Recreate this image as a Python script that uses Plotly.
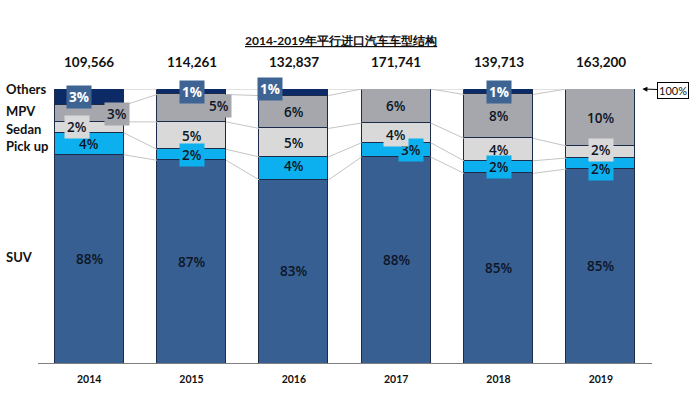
import plotly.graph_objects as go

# ---------------- data ----------------
years = ["2014", "2015", "2016", "2017", "2018", "2019"]
totals = ["109,566", "114,261", "132,837", "171,741", "139,713", "163,200"]
segment_names = ["SUV", "Pick up", "Sedan", "MPV", "Others"]
suv = [88.0, 87.0, 83.4, 87.6, 84.6, 85.4]
pickup = [4.0, 2.0, 4.2, 2.6, 2.3, 2.0]
sedan = [2.0, 5.0, 5.2, 3.6, 4.1, 2.2]
mpv = [3.0, 5.0, 6.0, 6.2, 8.0, 10.4]
others = [3.0, 1.0, 1.2, 0.0, 1.0, 0.0]
title_text = "2014-2019年平行进口汽车车型结构"

series = [suv, pickup, sedan, mpv, others]
colors = ["#375f91", "#0db0ee", "#d9d9d9", "#a5a7ac", "#0c2a66"]

FONT = "Lato"
LABEL_FONT = "Open Sans"
BAR_W = 0.675
x = list(range(len(years)))

fig = go.Figure()

# connector lines between bars at each cumulative boundary
cum = []
for i in range(len(years)):
    c, run = [], 0.0
    for s in series:
        run += s[i]
        c.append(run)
    cum.append(c)
lx, ly = [], []
for i in range(len(years) - 1):
    for k in range(len(series)):
        lx += [i + BAR_W / 2, i + 1 - BAR_W / 2, None]
        ly += [cum[i][k], cum[i + 1][k], None]
fig.add_trace(go.Scatter(x=lx, y=ly, mode="lines",
                         line=dict(color="#c4c4c4", width=1),
                         hoverinfo="skip", showlegend=False))

for name, vals, col in zip(segment_names, series, colors):
    fig.add_trace(go.Bar(x=x, y=vals, name=name, width=BAR_W,
                         marker=dict(color=col, line=dict(color="#1c2b4a", width=1)),
                         showlegend=False, hoverinfo="skip"))

# ---------------- label styles ----------------
styles = {
    "plain": dict(bg=None, fc="#0d1526", bold=False),
    "dark": dict(bg="#3e6494", fc="#ffffff", bold=True),
    "grey": dict(bg="#a5a7ac", fc="#0d1526", bold=False),
    "light": dict(bg="#d9d9d9", fc="#0d1526", bold=False),
    "cyan": dict(bg="#0db0ee", fc="#0d1526", bold=False),
}
# (segment index, year index) -> (style, xshift, yshift)
placement = {
    (4, 0): ("dark", -10, 0), (4, 1): ("dark", 0, 0), (4, 2): ("dark", -24, 3),
    (4, 4): ("dark", 0, 0), (4, 5): ("dark", 1, -1),
    (3, 0): ("grey", 28, 0), (3, 1): ("grey", 27, 2),
    (2, 0): ("light", -12, 0), (2, 3): ("light", 0, -2), (2, 5): ("light", 0, 2),
    (1, 1): ("cyan", 0, 0), (1, 2): ("plain", 0, 2), (1, 3): ("cyan", 15, 0),
    (1, 4): ("cyan", 0, 0), (1, 5): ("cyan", 0, -5),
}
Y0 = 50
annotations = []
for k, vals in enumerate(series):
    for i, v in enumerate(vals):
        if k == 4 and v == 0 and i == 3:
            continue
        lo = cum[i][k] - v
        hi = cum[i][k]
        if k == 0:
            yc = (max(lo, Y0) + hi) / 2
        else:
            yc = (lo + hi) / 2
        st, xs, ys = placement.get((k, i), ("plain", 0, 0))
        sd = styles[st]
        txt = f"{round(v)}%"
        a = dict(x=i, y=yc, xref="x", yref="y", text=txt, showarrow=False,
                 xshift=xs, yshift=ys,
                 font=dict(family=LABEL_FONT, size=13.5, color=sd["fc"],
                           weight=700 if sd["bold"] else 600))
        if sd["bg"]:
            a.update(bgcolor=sd["bg"], borderpad=2)
        annotations.append(a)

# totals above bars
for i, t in enumerate(totals):
    annotations.append(dict(x=i, y=100, xref="x", yref="y", text=f"<b>{t}</b>",
                            showarrow=False, yshift=27,
                            font=dict(family=FONT, size=13.5, color="#111111")))

# category labels on the left
cat_pos = [("Others", 100.0), ("MPV", 96.0), ("Sedan", 92.7), ("Pick up", 89.6), ("SUV", 69.3)]
for name, yy in cat_pos:
    annotations.append(dict(x=0, y=yy, xref="paper", yref="y", text=f"<b>{name}</b>",
                            showarrow=False, xanchor="left", xshift=-34,
                            font=dict(family=FONT, size=13, color="#111111")))

# title
annotations.append(dict(x=0.5, y=1, xref="paper", yref="paper",
                        text=f"<b><u>{title_text}</u></b>", showarrow=False,
                        xshift=-4, yshift=58,
                        font=dict(family=FONT, size=12, color="#111111")))

# 100% marker
annotations.append(dict(x=5.406, y=100, xref="x", yref="y", text="100%",
                        showarrow=True, arrowhead=2, arrowsize=1, arrowwidth=1,
                        arrowcolor="#000000", ax=31, ay=1,
                        bordercolor="#000000", borderwidth=1, borderpad=1,
                        bgcolor="#ffffff",
                        font=dict(family=FONT, size=11, color="#111111")))

fig.update_layout(
    width=696, height=397,
    margin=dict(l=38, r=44, t=89, b=34),
    paper_bgcolor="#ffffff", plot_bgcolor="#ffffff",
    barmode="stack", bargap=0,
    annotations=annotations,
    xaxis=dict(range=[-0.5, 5.5], tickvals=x, ticktext=[f"<b>{y}</b>" for y in years],
               showgrid=False, zeroline=False, showline=True, linecolor="#7f7f7f",
               linewidth=1, ticks="", ticklabelstandoff=6,
               tickfont=dict(family=FONT, size=10.5, color="#111111"),
               fixedrange=True),
    yaxis=dict(range=[Y0, 100], visible=False, showgrid=False, fixedrange=True),
    hovermode=False,
)

fig.write_html("out.html", config={"displayModeBar": False},
               post_script="document.body.style.margin='0';document.body.style.overflow='hidden';")
